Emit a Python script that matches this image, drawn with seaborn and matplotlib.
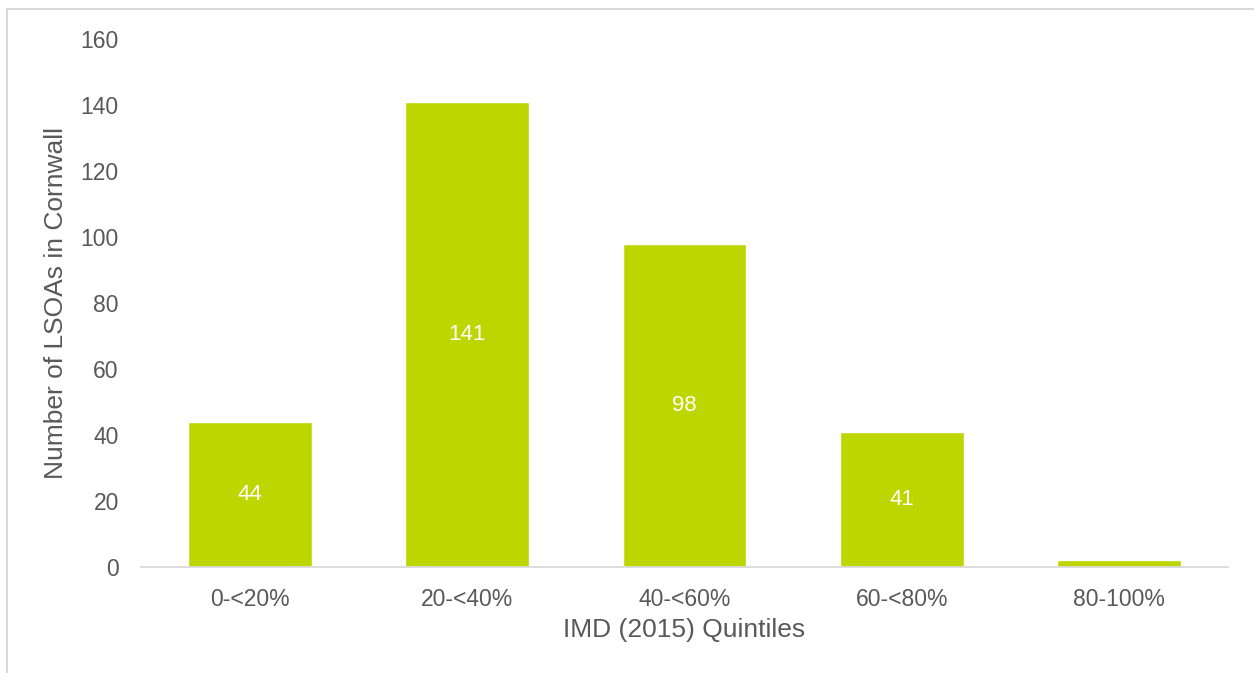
import matplotlib
matplotlib.use("Agg")
import matplotlib.pyplot as plt
import seaborn as sns
import pandas as pd
from matplotlib.patches import Rectangle

categories = ["0-<20%", "20-<40%", "40-<60%", "60-<80%", "80-100%"]
counts = [44, 141, 98, 41, 2]
bar_labels = ["44", "141", "98", "41", ""]

df = pd.DataFrame({"quintile": categories, "count": counts})

sns.set_theme(style="white")
plt.rcParams["font.family"] = ["Liberation Sans", "DejaVu Sans"]

fig = plt.figure(figsize=(12.54, 6.73), dpi=100)
ax = fig.add_axes([141/1254, 1-567/673, (1228-141)/1254, (567-39)/673])

sns.barplot(data=df, x="quintile", y="count", color="#BED600", saturation=1,
            width=0.57, ax=ax)

ax.set_ylim(0, 160)
ax.set_yticks(range(0, 161, 20))
ax.set_xlim(-0.5, len(categories) - 0.5)
text_col = "#595959"
ax.tick_params(axis="both", labelsize=16.5, colors=text_col, length=0)
ax.tick_params(axis="x", pad=15)
ax.tick_params(axis="y", pad=16)
for s in ["top", "right", "left"]:
    ax.spines[s].set_visible(False)
ax.spines["bottom"].set_color("#d9d9d9")
ax.spines["bottom"].set_linewidth(1.3)
ax.set_xlabel("IMD (2015) Quintiles", fontsize=19, color=text_col, labelpad=5)
ax.set_ylabel("Number of LSOAs in Cornwall", fontsize=19, color=text_col, labelpad=9)

for container in ax.containers:
    ax.bar_label(container, labels=bar_labels, label_type="center",
                 color="white", fontsize=16)

fig.patches.append(Rectangle((7/1254, -0.1), 1.2, 1 - 9/673 + 0.1,
                             transform=fig.transFigure, fill=False,
                             edgecolor="#d9d9d9", linewidth=1.5))

fig.savefig("out.png", dpi=100, facecolor="white")
